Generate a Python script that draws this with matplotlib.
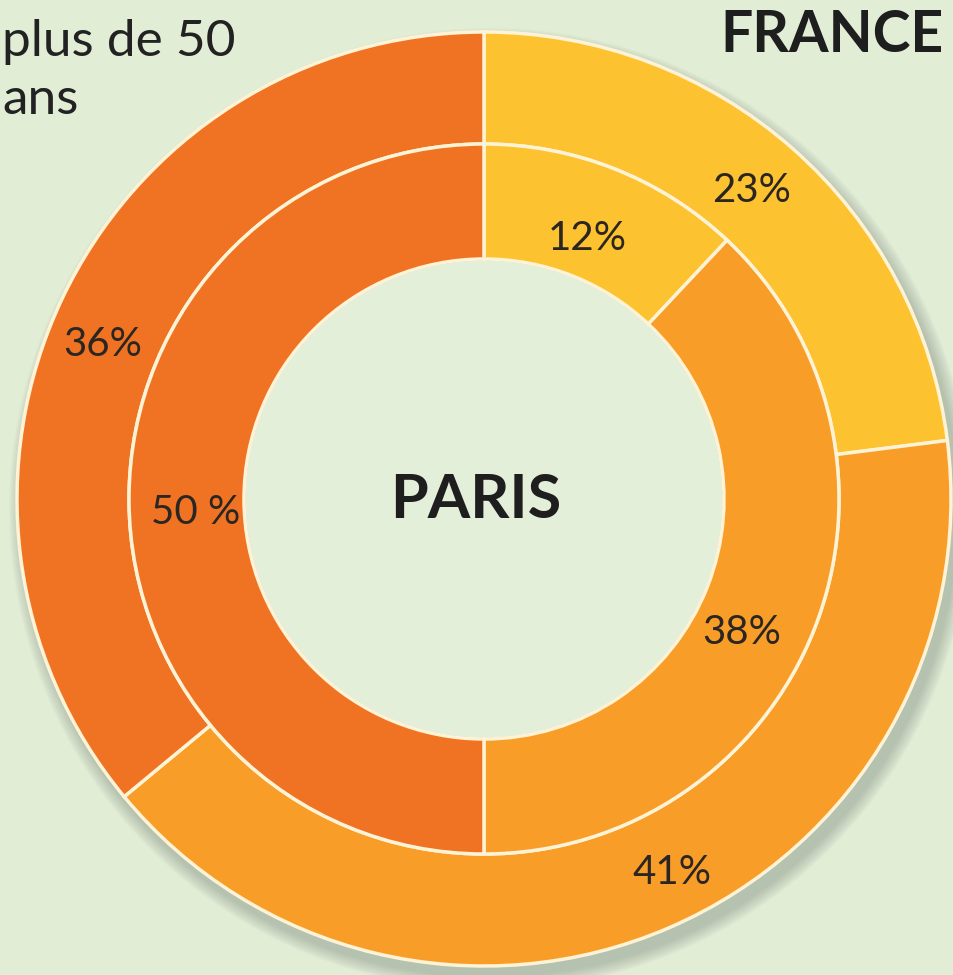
import matplotlib.pyplot as plt
from matplotlib.patches import Circle

# data
france_labels = ['23%', '41%', '36%']
france_values = [23, 41, 36]
paris_labels = ['12%', '38%', '50 %']
paris_values = [12, 38, 50]
colors = ['#FDC22F', '#F99D29', '#F07324']

bg = '#E2EDD6'
edge = '#FFF3D6'
txt = '#2B2622'

fig = plt.figure(figsize=(9.54, 9.75), dpi=100)
fig.patch.set_facecolor(bg)
ax = fig.add_axes([0, 0, 1, 1])
ax.set_aspect('equal')

cx, cy = 484, 975 - 499
r_out, r_mid, r_in = 467, 355, 240

# soft drop shadow under the outer ring
for i in range(14):
    ax.add_patch(Circle((cx + 6, cy - 10), r_out + 14 - i, color='#7f8f80',
                        alpha=0.035, lw=0, zorder=0.5))

ax.pie(france_values, radius=r_out, center=(cx, cy), colors=colors,
       startangle=90, counterclock=False, frame=True,
       wedgeprops=dict(width=r_out - r_mid, edgecolor=edge, linewidth=2.5))
ax.pie(paris_values, radius=r_mid, center=(cx, cy), colors=colors,
       startangle=90, counterclock=False, frame=True,
       wedgeprops=dict(width=r_mid - r_in, edgecolor=edge, linewidth=2.5))
# hole of the donut shows the background
ax.add_patch(Circle((cx, cy), r_in - 1.5, color='#E4EFDA', lw=0, zorder=0.9))
ax.set_xlim(0, 954)
ax.set_ylim(0, 975)
ax.axis('off')

pct_font = dict(family=['Lato', 'DejaVu Sans'], fontsize=29, color=txt,
                ha='center', va='center')
france_pos = [(752, 190), (672, 873), (103, 345)]
paris_pos = [(587, 238), (742, 632), (196, 512)]
for lab, (x, y) in zip(france_labels, france_pos):
    ax.text(x, 975 - y, lab, **pct_font)
for lab, (x, y) in zip(paris_labels, paris_pos):
    ax.text(x, 975 - y, lab, **pct_font)

title_font = dict(family=['Lato', 'DejaVu Sans'], color='#1E1E1E',
                  weight='bold', va='center')
ax.text(476, 975 - 500, 'PARIS', ha='center', fontsize=44, **title_font)
ax.text(944, 975 - 36, 'FRANCE', ha='right', fontsize=41, **title_font)

ax.text(2, 975 - 42, 'plus de 50', ha='left', va='center', fontsize=37,
        family=['Lato', 'DejaVu Sans'], color='#222222')
ax.text(2, 975 - 100, 'ans', ha='left', va='center', fontsize=37,
        family=['Lato', 'DejaVu Sans'], color='#222222')

fig.savefig('out.png', dpi=100, facecolor=bg)
